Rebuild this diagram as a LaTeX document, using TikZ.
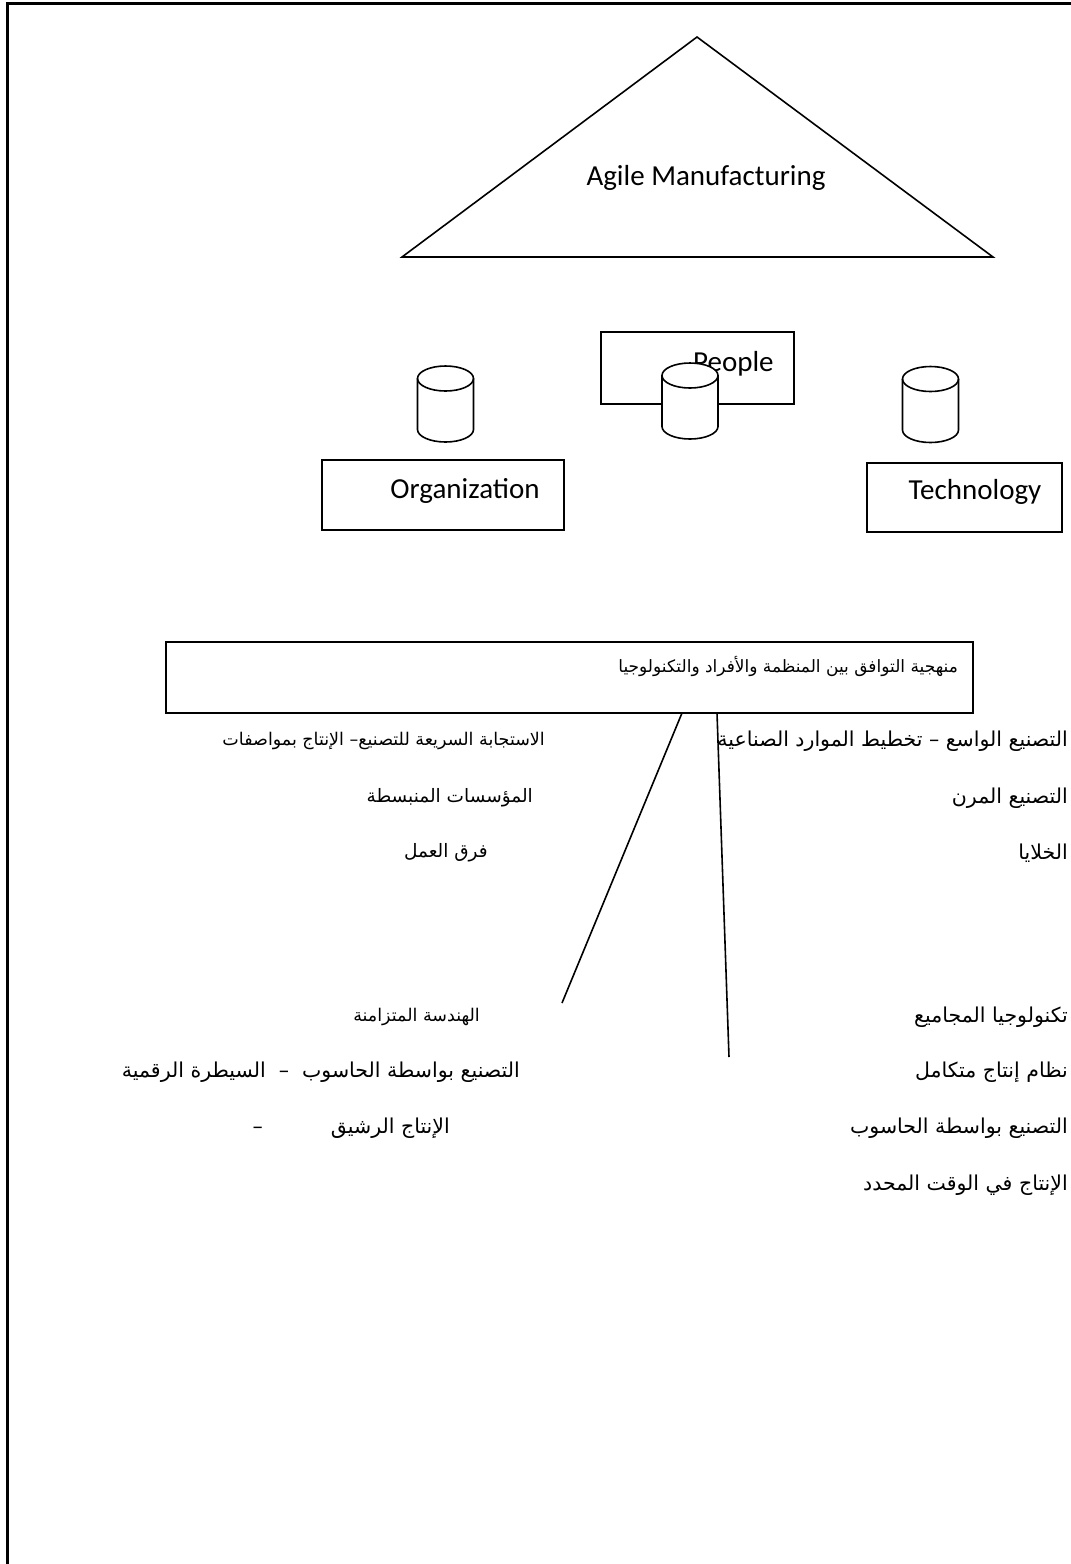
\documentclass[tikz,border=0pt]{standalone}
\usepackage{fontspec}
\setmainfont{Carlito}
\newfontfamily\arabicfont[Script=Arabic]{DejaVu Sans}
\TeXXeTstate=1
\begin{document}
\begin{tikzpicture}[x=1pt,y=-1pt,
  lat/.style={font=\fontsize{29}{34}\selectfont},
  ar/.style={font=\arabicfont\fontsize{20.5}{24}\selectfont, inner sep=0pt, anchor=east},
  arl/.style={font=\arabicfont\fontsize{18.5}{22}\selectfont, inner sep=0pt, anchor=east},
  ars/.style={font=\arabicfont\fontsize{17.5}{22}\selectfont, inner sep=0pt, anchor=east},
  arb/.style={font=\arabicfont\fontsize{17}{22}\selectfont, inner sep=0pt, anchor=east},
  rbox/.style={draw, line width=1.6pt, inner sep=0pt},
  can/.pic={
    \path[draw, line width=1.6pt, fill=white]
      (-28,-25.5) -- (-28,25.5)
      arc[start angle=180, end angle=0, x radius=28, y radius=12.5]
      -- (28,-25.5)
      arc[start angle=0, end angle=-180, x radius=28, y radius=12.5] -- cycle;
    \draw[line width=1.6pt] (-28,-25.5)
      arc[start angle=180, end angle=0, x radius=28, y radius=12.5];
  },
  conn/.style={line width=1.6pt}]
\useasboundingbox (0,0) rectangle (1071,1564);
% frame
\coordinate (fbl) at (7,1564);
\coordinate (ftl) at (7,3);
\coordinate (ftr) at (1071,3);
\draw[line width=3pt] (fbl) -- (ftl) -- (ftr);
% triangle
\coordinate (apex) at (697,37);
\coordinate (tl) at (402,257);
\coordinate (tr) at (993,257);
\draw[line width=1.6pt, line join=miter] (apex) -- (tl) -- (tr) -- cycle;
\node[lat] (agile) at (706,178) {Agile Manufacturing};
% boxes
\node[rbox, minimum width=193pt, minimum height=72pt] (people) at (697.5,368) {};
\node[lat, anchor=west, inner sep=0pt] (peopletxt) at (693,364) {People};
\node[rbox, minimum width=242pt, minimum height=70pt] (org) at (443,495) {};
\node[lat] (orgtxt) at (465,491) {Organization};
\node[rbox, minimum width=195pt, minimum height=69pt] (tech) at (964.5,497.5) {};
\node[lat] (techtxt) at (975,492) {Technology};
% cylinders
\pic (c1) at (445.5,404) {can};
\pic (c2) at (690,401) {can};
\pic (c3) at (930.5,404.5) {can};
% main box
\node[rbox, minimum width=807pt, minimum height=71pt] (mbox) at (569.5,677.5) {};
\node[arb] (mtxt) at (958,666) {\beginR منهجية التوافق بين المنظمة والأفراد والتكنولوجيا\endR};
% connectors
\coordinate (l1a) at (682,713);
\coordinate (l1b) at (562,1003);
\coordinate (l2a) at (717,713);
\coordinate (l2b) at (729,1057);
\draw[conn] (l1a) -- (l1b);
\draw[conn] (l2a) -- (l2b);
% right column
\node[ar] (r1) at (1068,741) {\beginR التصنيع الواسع – تخطيط الموارد الصناعية\endR};
\node[ar] (r2) at (1068,798) {\beginR التصنيع المرن\endR};
\node[ar] (r3) at (1068,853) {\beginR الخلايا\endR};
\node[ar] (r4) at (1068,1017) {\beginR تكنولوجيا المجاميع\endR};
\node[ar] (r5) at (1068,1072) {\beginR نظام إنتاج متكامل\endR};
\node[ar] (r6) at (1068,1128) {\beginR التصنيع بواسطة الحاسوب\endR};
\node[ar] (r7) at (1068,1185) {\beginR الإنتاج في الوقت المحدد\endR};
% left column
\node[ars] (q1) at (545,741) {\beginR الاستجابة السريعة للتصنيع– الإنتاج بمواصفات\endR};
\node[arl] (q2) at (533,798) {\beginR المؤسسات المنبسطة\endR};
\node[arl] (q3) at (488,853) {\beginR فرق العمل\endR};
\node[ars] (q4) at (480,1017) {\beginR الهندسة المتزامنة\endR};
\node[ar] (q5) at (520,1072) {\beginR التصنيع بواسطة الحاسوب \ – \ السيطرة الرقمية\endR};
\node[ar] (q6) at (450,1128) {\beginR الإنتاج الرشيق \qquad\quad –\endR};
\end{tikzpicture}
\end{document}
